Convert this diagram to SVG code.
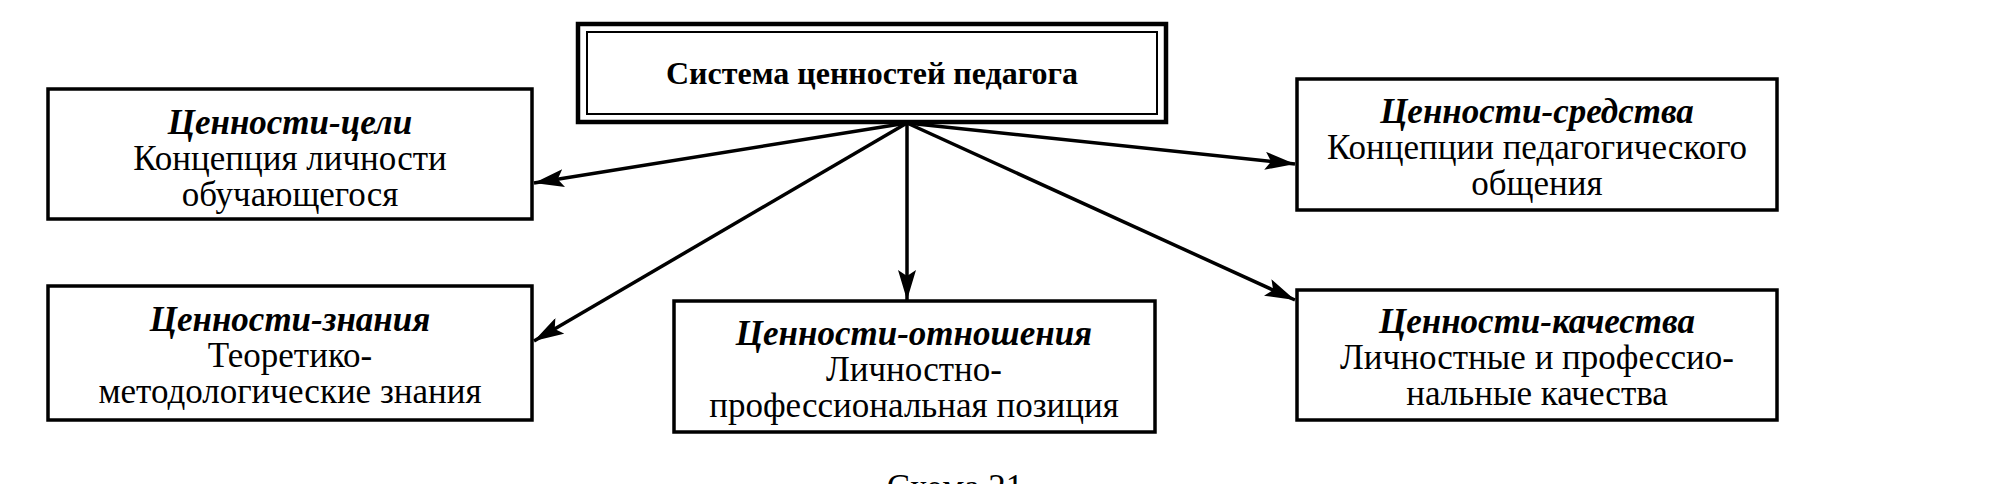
<svg xmlns="http://www.w3.org/2000/svg" width="1994" height="484" viewBox="0 0 1994 484">
<defs>
<marker id="ah" viewBox="0 0 30 18" refX="30" refY="9" markerWidth="30" markerHeight="18" markerUnits="userSpaceOnUse" orient="auto">
<path d="M0,0 L30,9 L0,18 L6,9 Z" fill="#000"/>
</marker>
</defs>
<style>
.box{fill:#fff;stroke:#000;stroke-width:3.5}
.t{font-family:"Liberation Serif","Times New Roman",serif;font-size:35px;text-anchor:middle;fill:#000}
.h{font-weight:bold;font-style:italic}
.title{font-weight:bold;font-size:32px}
.c{stroke:#000;stroke-width:3.5;fill:none;marker-end:url(#ah)}
</style>
<rect width="1994" height="484" fill="#fff"/>
<g id="connectors">
<line class="c" x1="907" y1="123" x2="534" y2="183"/>
<line class="c" x1="907" y1="123" x2="534" y2="341"/>
<line class="c" x1="907" y1="123" x2="907" y2="300"/>
<line class="c" x1="907" y1="123" x2="1295" y2="164"/>
<line class="c" x1="907" y1="123" x2="1295" y2="300"/>
</g>
<g id="center">
<rect x="578" y="24" width="588" height="98" fill="#fff" stroke="#000" stroke-width="4.5"/>
<rect x="587" y="32" width="570" height="82" fill="none" stroke="#000" stroke-width="2"/>
<text class="t title" x="872" y="84">Система ценностей педагога</text>
</g>
<g id="goals">
<rect class="box" x="48" y="89" width="484" height="130"/>
<text class="t h" x="290" y="134">Ценности-цели</text>
<text class="t" x="290" y="170">Концепция личности</text>
<text class="t" x="290" y="206">обучающегося</text>
</g>
<g id="knowledge">
<rect class="box" x="48" y="286" width="484" height="134"/>
<text class="t h" x="290" y="331">Ценности-знания</text>
<text class="t" x="290" y="367">Теоретико-</text>
<text class="t" x="290" y="403">методологические знания</text>
</g>
<g id="relations">
<rect class="box" x="674" y="301" width="481" height="131"/>
<text class="t h" x="914" y="345">Ценности-отношения</text>
<text class="t" x="914" y="381">Личностно-</text>
<text class="t" x="914" y="417">профессиональная позиция</text>
</g>
<g id="means">
<rect class="box" x="1297" y="79" width="480" height="131"/>
<text class="t h" x="1537" y="123">Ценности-средства</text>
<text class="t" x="1537" y="159">Концепции педагогического</text>
<text class="t" x="1537" y="195">общения</text>
</g>
<g id="qualities">
<rect class="box" x="1297" y="290" width="480" height="130"/>
<text class="t h" x="1537" y="333">Ценности-качества</text>
<text class="t" x="1537" y="369">Личностные и профессио-</text>
<text class="t" x="1537" y="405">нальные качества</text>
</g>
<text class="t" x="955" y="499">Схема 21</text>
</svg>
